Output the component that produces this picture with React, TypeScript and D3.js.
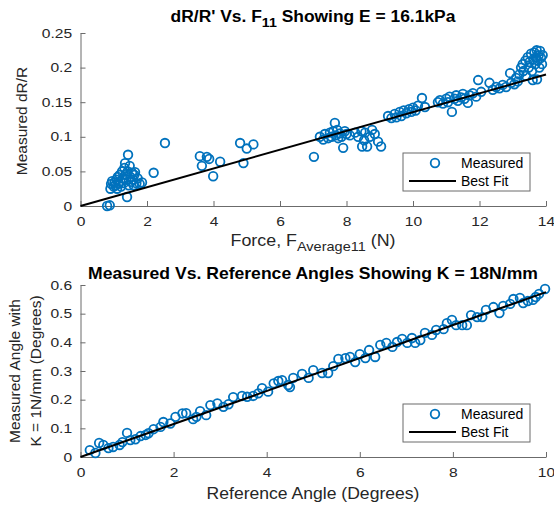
import React, { useRef, useEffect } from 'react';
import * as d3 from 'd3';

// top panel: dR/R' vs force
const forceX = [
  0.8, 0.88, 0.9, 0.92, 0.95, 1.0, 1.02, 1.05, 1.08, 1.1, 1.12, 1.15, 1.18, 1.2, 1.22, 1.25, 1.28, 1.3, 1.32,
  1.34, 1.36, 1.38, 1.4, 1.42, 1.43, 1.45, 1.48, 1.5, 1.52, 1.55, 1.58, 1.6, 1.62, 1.64, 1.68, 1.72, 1.78, 1.85,
  2.2, 2.54, 3.59, 3.65, 3.8, 3.87, 3.99, 4.2, 4.8, 4.9, 5.0, 5.2,
  7.02, 7.2, 7.3, 7.35, 7.45, 7.5, 7.55, 7.6, 7.65, 7.68, 7.72, 7.75, 7.8, 7.85, 7.9, 7.95, 8.0, 8.1,
  8.26, 8.35, 8.45, 8.47, 8.53, 8.56, 8.62, 8.7, 8.77, 8.85, 8.95, 9.04,
  9.25, 9.35, 9.45, 9.5, 9.6, 9.65, 9.72, 9.8, 9.88, 9.95, 10.0, 10.08, 10.15, 10.27, 10.36,
  10.75, 10.81, 10.9, 11.0, 11.05, 11.1, 11.17, 11.25, 11.3, 11.35, 11.45, 11.5, 11.55, 11.65, 11.7, 11.8, 11.9, 11.96, 12.05,
  12.3, 12.4, 12.5, 12.6, 12.7, 12.8, 12.92, 12.95, 13.05, 13.1, 13.15,
  13.2, 13.25, 13.3, 13.32, 13.38, 13.4, 13.45, 13.48, 13.5, 13.55, 13.58, 13.6, 13.62, 13.65, 13.68, 13.7,
  13.72, 13.73, 13.75, 13.78, 13.8, 13.82, 13.85, 13.88, 13.9,
];
const dRR = [
  0.0, 0.001, 0.025, 0.032, 0.036, 0.028, 0.034, 0.03, 0.038, 0.025, 0.042, 0.032, 0.045, 0.036, 0.028, 0.05, 0.04, 0.033, 0.055,
  0.062, 0.046, 0.038, 0.013, 0.05, 0.074, 0.03, 0.058, 0.042, 0.035, 0.048, 0.038, 0.03, 0.045, 0.049, 0.033, 0.04, 0.032, 0.034,
  0.048, 0.091, 0.072, 0.058, 0.071, 0.068, 0.043, 0.064, 0.091, 0.062, 0.083, 0.089,
  0.071, 0.1, 0.096, 0.104, 0.098, 0.106, 0.1, 0.108, 0.12, 0.102, 0.11, 0.098, 0.105, 0.1, 0.084, 0.108, 0.104, 0.102,
  0.106, 0.1, 0.108, 0.086, 0.095, 0.106, 0.086, 0.1, 0.11, 0.104, 0.093, 0.086,
  0.13, 0.127, 0.133, 0.128, 0.136, 0.13, 0.138, 0.134, 0.14, 0.136, 0.142, 0.138, 0.145, 0.156, 0.143,
  0.15, 0.153, 0.148, 0.155, 0.15, 0.158, 0.136, 0.155, 0.16, 0.152, 0.157, 0.162, 0.155, 0.149, 0.16, 0.163, 0.158, 0.182, 0.165,
  0.178, 0.168, 0.172, 0.17, 0.175, 0.172, 0.192, 0.178, 0.176, 0.185, 0.18,
  0.19, 0.2, 0.205, 0.195, 0.21, 0.188, 0.215, 0.2, 0.208, 0.22, 0.195, 0.182, 0.212, 0.222, 0.205, 0.215,
  0.225, 0.183, 0.21, 0.218, 0.2, 0.224, 0.214, 0.205, 0.218,
];
const fitTopX = [0, 14];
const fitTopY = [0, 0.19];

// bottom panel: measured vs reference angle
const refAngle = [
  0.2, 0.32, 0.4, 0.49, 0.6, 0.7, 0.84, 0.9, 1.0, 1.07, 1.18, 1.29, 1.4, 1.46, 1.57, 1.72, 1.78, 1.93,
  2.04, 2.19, 2.27, 2.42, 2.49, 2.57, 2.7, 2.79, 2.94, 3.07, 3.18, 3.28, 3.47, 3.58, 3.71, 3.82, 3.9,
  4.03, 4.15, 4.25, 4.33, 4.46, 4.5, 4.57, 4.76, 4.9, 5.0, 5.19, 5.32, 5.43, 5.54, 5.69, 5.79, 5.9,
  6.0, 6.12, 6.2, 6.33, 6.44, 6.57, 6.7, 6.8, 6.91, 7.02, 7.12, 7.19, 7.3, 7.4, 7.55, 7.64, 7.8, 7.87,
  7.98, 8.07, 8.2, 8.3, 8.39, 8.52, 8.63, 8.71, 8.87, 9.0, 9.08, 9.23, 9.3, 9.44, 9.51, 9.61, 9.72,
  9.78, 9.85, 9.98,
];
const measAngle = [
  0.024, 0.014, 0.049, 0.042, 0.031, 0.035, 0.042, 0.052, 0.084, 0.059, 0.062, 0.073, 0.077, 0.083, 0.097, 0.105, 0.122, 0.117,
  0.14, 0.152, 0.153, 0.132, 0.14, 0.16, 0.146, 0.181, 0.187, 0.175, 0.184, 0.209, 0.213, 0.21, 0.213, 0.222, 0.24,
  0.228, 0.257, 0.265, 0.268, 0.251, 0.244, 0.276, 0.29, 0.276, 0.303, 0.293, 0.293, 0.317, 0.342, 0.345, 0.349, 0.331,
  0.359, 0.345, 0.373, 0.349, 0.391, 0.398, 0.384, 0.401, 0.412, 0.398, 0.415, 0.398, 0.408, 0.433, 0.426, 0.443, 0.446, 0.467,
  0.478, 0.46, 0.46, 0.46, 0.495, 0.488, 0.488, 0.513, 0.523, 0.502, 0.527, 0.534, 0.551, 0.555, 0.537, 0.544, 0.548,
  0.558, 0.569, 0.586,
];
const fitBottomX = [0, 10];
const fitBottomY = [0, 0.575];

const topXTicks = [0, 2, 4, 6, 8, 10, 12, 14];
const topYTicks = [0, 0.05, 0.1, 0.15, 0.2, 0.25];
const bottomXTicks = [0, 2, 4, 6, 8, 10];
const bottomYTicks = [0, 0.1, 0.2, 0.3, 0.4, 0.5, 0.6];

const BLUE = '#0072BD';
const FONT = 'Liberation Sans, Arial, Helvetica, sans-serif';
const STRETCH = 1.2; // the reference text is a bit wide

const drawPanel = (svg, p) => {
  const x = d3.scaleLinear().domain(p.xDomain).range([80.5, 546]);
  const y = d3.scaleLinear().domain(p.yDomain).range([p.bottom, p.top]);
  const g = svg.append('g');

  // axes (MATLAB style, ticks pointing in)
  const xAxis = g
    .append('g')
    .attr('transform', `translate(0,${p.bottom})`)
    .call(d3.axisBottom(x).tickValues(p.xTicks).tickSizeInner(-5).tickSizeOuter(0).tickPadding(11).tickFormat(d3.format('')));
  const yAxis = g
    .append('g')
    .attr('transform', `translate(80.5,0)`)
    .call(d3.axisLeft(y).tickValues(p.yTicks).tickSizeInner(-5).tickSizeOuter(0).tickPadding(7).tickFormat(d3.format('')));
  [xAxis, yAxis].forEach((a) => {
    a.selectAll('path, line').attr('stroke', '#6b6b6b');
    a.selectAll('text')
      .style('font-family', FONT)
      .style('font-size', '13px')
      .attr('fill', '#262626')
      .attr('transform', `scale(${STRETCH},1)`);
  });

  // markers
  g.append('g')
    .selectAll('circle')
    .data(p.xs.map((v, i) => [v, p.ys[i]]))
    .enter()
    .append('circle')
    .attr('cx', (d) => x(d[0]))
    .attr('cy', (d) => y(d[1]))
    .attr('r', 4.3)
    .attr('fill', 'none')
    .attr('stroke', BLUE)
    .attr('stroke-width', 1.8);

  // best fit
  const line = d3.line().x((d) => x(d[0])).y((d) => y(d[1]));
  g.append('path')
    .attr('d', line(p.fitX.map((v, i) => [v, p.fitY[i]])))
    .attr('fill', 'none')
    .attr('stroke', '#000')
    .attr('stroke-width', 2);

  // legend
  const lg = g.append('g').attr('transform', `translate(403,${p.legendTop})`);
  lg.append('rect').attr('width', 127).attr('height', 38).attr('fill', '#fff').attr('stroke', '#6b6b6b').attr('stroke-width', 1);
  lg.append('circle').attr('cx', 32).attr('cy', 10).attr('r', 4.3).attr('fill', 'none').attr('stroke', BLUE).attr('stroke-width', 1.8);
  lg.append('line').attr('x1', 6).attr('x2', 53).attr('y1', 28).attr('y2', 28).attr('stroke', '#000').attr('stroke-width', 2);
  lg.append('text').attr('x', 58).attr('y', 15).text('Measured');
  lg.append('text').attr('x', 58).attr('y', 33).text('Best Fit');
  lg.selectAll('text').style('font-family', FONT).style('font-size', '14px').attr('fill', '#000');

  return g;
};

// centred horizontal label, squeezed/stretched to the width seen in the reference
const wideText = (g, yPos, width, bold) => {
  const t = g
    .append('text')
    .attr('x', 0)
    .attr('y', 0)
    .attr('text-anchor', 'middle')
    .style('font-family', FONT)
    .style('font-size', '16px')
    .style('font-weight', bold ? 'bold' : 'normal')
    .attr('fill', bold ? '#000' : '#262626');
  t.fit = () => {
    const w = t.node().getBBox().width || width;
    t.attr('transform', `translate(313,${yPos}) scale(${width / w},1)`);
  };
  return t;
};

const App = () => {
  const svgRef = useRef(null);

  useEffect(() => {
    const svg = d3.select(svgRef.current);
    svg.selectAll('*').remove();

    const top = drawPanel(svg, {
      xDomain: [0, 14], yDomain: [0, 0.25], top: 33, bottom: 206,
      xTicks: topXTicks, yTicks: topYTicks, xs: forceX, ys: dRR,
      fitX: fitTopX, fitY: fitTopY, legendTop: 153,
    });
    const bottom = drawPanel(svg, {
      xDomain: [0, 10], yDomain: [0, 0.6], top: 285, bottom: 457,
      xTicks: bottomXTicks, yTicks: bottomYTicks, xs: refAngle, ys: measAngle,
      fitX: fitBottomX, fitY: fitBottomY, legendTop: 404,
    });

    // titles and labels
    const t1 = wideText(top, 22, 285, true);
    t1.append('tspan').text("dR/R' Vs. F");
    t1.append('tspan').attr('dy', 5).style('font-size', '13px').text('11');
    t1.append('tspan').attr('dy', -5).text(' Showing E = 16.1kPa');
    t1.fit();

    const xl1 = wideText(top, 246, 165, false);
    xl1.append('tspan').text('Force, F');
    xl1.append('tspan').attr('dy', 5).style('font-size', '13px').text('Average11');
    xl1.append('tspan').attr('dy', -5).text(' (N)');
    xl1.fit();

    const t2 = wideText(bottom, 279, 450, true);
    t2.text('Measured Vs. Reference Angles Showing K = 18N/mm');
    t2.fit();

    const xl2 = wideText(bottom, 499, 213, false);
    xl2.text('Reference Angle (Degrees)');
    xl2.fit();

    const yLabel = (g, xPos, yPos, txt) =>
      g.append('text')
        .attr('transform', `translate(${xPos},${yPos}) rotate(-90)`)
        .attr('text-anchor', 'middle')
        .style('font-family', FONT)
        .style('font-size', '15.5px')
        .attr('fill', '#262626')
        .text(txt);

    yLabel(top, 27, 121, 'Measured dR/R');
    yLabel(bottom, 20, 371, 'Measured Angle with');
    yLabel(bottom, 41, 371, 'K = 1N/mm (Degrees)');
  }, []);

  return (
    <svg
      ref={svgRef}
      width={554}
      height={506}
      style={{ position: 'absolute', left: 0, top: 0, background: '#fff' }}
    />
  );
};

export default App;
